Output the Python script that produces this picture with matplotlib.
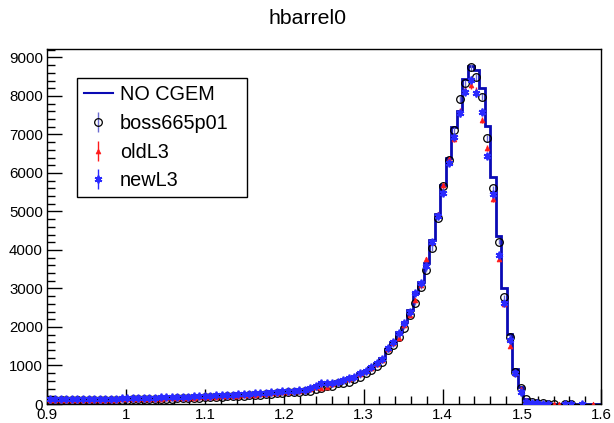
import numpy as np
import matplotlib
matplotlib.use("Agg")
from matplotlib import pyplot as plt
from matplotlib.lines import Line2D

plt.rcParams['font.family'] = ['Liberation Sans', 'DejaVu Sans']

# 100 bins from 0.9 to 1.6
edges = np.linspace(0.9, 1.6, 101)

no_cgem = [112, 110, 115, 108, 112, 106, 110, 114, 112, 116, 118, 115, 120, 124, 126,
           130, 132, 135, 138, 142, 145, 150, 153, 158, 162, 166, 172, 178, 185,
           190, 196, 202, 210, 216, 224, 232, 240, 250, 260, 270, 282, 295, 308,
           320, 335, 350, 370, 410, 465, 530, 545, 545, 585, 625, 665, 715, 795, 865, 955, 1060, 1200,
           1430, 1620, 1860, 2120, 2430, 2880, 3180,
           3655, 4260, 4935, 5690, 6390, 7200, 7610, 8440, 8790, 8675, 8210, 7220, 5900, 4365, 3005,
           1810, 900, 430, 140, 40,
           15, 10, 8, 5, 4, 3, 2, 2, 1, 1, 1, 0]

boss665p01 = [100, 98, 104, 96, 100, 95, 99, 102, 100, 104, 106, 104, 108, 112, 114,
              118, 120, 122, 126, 130, 133, 138, 140, 145, 150, 154, 160, 165, 172,
              178, 183, 190, 196, 203, 210, 218, 226, 236, 246, 256, 268, 280, 292,
              300, 310, 320, 330, 340, 380, 410, 460, 470, 540, 555, 580, 640, 710, 795, 885, 985, 1100,
              1390, 1530, 1730, 1980, 2310, 2630, 3045,
              3480, 4045, 4840, 5660, 6330, 7115, 7915, 8330, 8745, 8485, 7980, 6900, 5600, 4210, 2770,
              1750, 840, 410, 120, 40,
              18, 14, 10, 8, 0, 6, 5, 0, 0, 0, 0, 0]

oldL3 = [108, 104, 110, 102, 106, 100, 104, 108, 106, 110, 112, 110, 115, 118, 120,
         125, 127, 130, 133, 137, 140, 144, 148, 152, 156, 160, 166, 172, 178,
         184, 190, 196, 203, 210, 217, 225, 233, 243, 253, 263, 275, 288, 300,
         312, 325, 340, 358, 400, 450, 410, 450, 520, 575, 615, 655, 700, 780, 850, 930, 1030, 1150,
         1420, 1585, 1705, 2050, 2310, 2700, 3100,
         3760, 4200, 4925, 5690, 6355, 6875, 7610, 8150, 8285, 8140, 7375, 6640, 5315, 3765, 2600,
         1505, 800, 380, 100, 30,
         12, 10, 6, 6, 5, 4, 4, 0, 0, 0, 3, 0]

newL3 = [135, 130, 138, 128, 134, 126, 132, 136, 134, 138, 140, 137, 142, 146, 148,
         152, 155, 158, 162, 166, 170, 175, 178, 183, 188, 192, 198, 205, 212,
         218, 224, 230, 238, 245, 252, 260, 268, 278, 288, 298, 310, 322, 335,
         340, 350, 360, 375, 410, 470, 540, 540, 540, 580, 625, 665, 710, 800, 865, 955, 1055, 1160,
         1445, 1620, 1850, 2110, 2400, 2875, 3150,
         3585, 4215, 4890, 5470, 6270, 6925, 7550, 8110, 8415, 8070, 7590, 6440, 5455, 3870, 2615,
         1660, 805, 320, 60, 35,
         15, 12, 10, 0, 0, 5, 5, 0, 3, 0, 0, 0]

xticks = [0.9, 1.0, 1.1, 1.2, 1.3, 1.4, 1.5, 1.6]
xtick_labels = ['0.9', '1', '1.1', '1.2', '1.3', '1.4', '1.5', '1.6']
yticks = [0, 1000, 2000, 3000, 4000, 5000, 6000, 7000, 8000, 9000]

centers = 0.5 * (edges[:-1] + edges[1:])

fig = plt.figure(figsize=(6.14, 4.23), dpi=100)
ax = fig.add_axes([47 / 614, 19 / 423, 554 / 614, 355 / 423])

line_col = '#0a0ab4'
ax.stairs(no_cgem, edges, color=line_col, lw=2.0, zorder=2)


def points(vals, **kw):
    v = np.array(vals, dtype=float)
    m = v > 0
    return ax.errorbar(centers[m], v[m], yerr=np.sqrt(v[m]), ls='none',
                       capsize=0, elinewidth=1, zorder=3, **kw)


h1 = points(boss665p01, marker='o', mfc='none', mec='black', mew=0.9, ms=5.5,
            ecolor='#6a6ad0')
h2 = points(oldL3, marker='^', color='#ff1a1a', ms=3.5, mew=0.5)
h3 = points(newL3, marker=(6, 2, 0), color='#2a2aff', ms=5.5, mew=1.3)

ax.set_xlim(0.9, 1.6)
ax.set_ylim(0, 9220)
ax.set_xticks(xticks)
ax.set_xticklabels(xtick_labels)
ax.set_xticks(np.arange(0.9, 1.6001, 0.02), minor=True)
ax.set_yticks(yticks)
ax.set_yticks(np.arange(0, 9201, 200), minor=True)
ax.tick_params(which='both', direction='in', top=False, right=False,
               labelsize=10.8, width=1, pad=3, colors='black')
ax.tick_params(which='major', length=11)
ax.tick_params(which='minor', length=5.5)
for s in ax.spines.values():
    s.set_linewidth(1)

fig.text(0.5, 1 - 18 / 423, 'hbarrel0', ha='center', va='center', fontsize=15.3)

handles = [Line2D([], [], color=line_col, lw=1.5), h1, h2, h3]
labels = ['NO CGEM', 'boss665p01', 'oldL3', 'newL3']
leg = ax.legend(handles, labels, loc='upper left',
                bbox_to_anchor=(30 / 554, 0.583, 170 / 554, 0.335), mode='expand',
                fontsize=14.3, frameon=True, fancybox=False, framealpha=1,
                edgecolor='black', handlelength=1.45, handletextpad=0.35,
                labelspacing=0.49, borderpad=0.35, borderaxespad=0)
leg.get_frame().set_linewidth(1)

fig.savefig('out.png', dpi=100)
